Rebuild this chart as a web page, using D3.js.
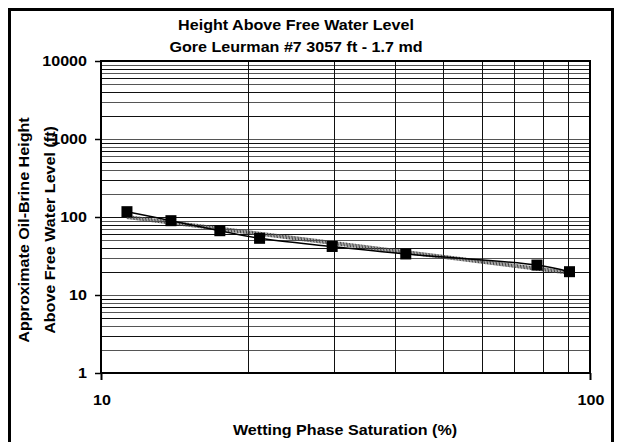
<!DOCTYPE html>
<html>
<head>
<meta charset="utf-8">
<script src="https://cdn.jsdelivr.net/npm/d3@7"></script>
<style>
  body { margin: 0; background: #fff; }
  text { font-family: "Liberation Sans", Arial, sans-serif; font-weight: bold; fill: #000; }
</style>
</head>
<body>
<div id="chart"></div>
<script>
// data
var saturation = [11.3, 13.9, 17.5, 21.1, 29.7, 42.0, 77.9, 90.8]
var heightFt = [117, 89.7, 66.7, 53.3, 41.9, 33.6, 24.2, 19.9]
var xTicks = [10, 100]
var yTicks = [1, 10, 100, 1000, 10000]
var titleLines = ['Height Above Free Water Level', 'Gore Leurman #7 3057 ft - 1.7 md']
var yTitleLines = ['Approximate Oil-Brine Height', 'Above Free Water Level (ft)']
var xTitle = 'Wetting Phase Saturation (%)'

var width = 622, height = 442
var plotLeft = 101, plotRight = 590, plotTop = 61, plotBottom = 373

var svg = d3.select('#chart').append('svg')
    .attr('width', width)
    .attr('height', height)

// outer frame
svg.append('rect')
    .attr('x', 9.5).attr('y', 9.5)
    .attr('width', 603).attr('height', 445)
    .style('fill', 'none')
    .style('stroke', '#000')
    .style('stroke-width', 3)

var x = d3.scaleLog().domain([10, 100]).range([plotLeft, plotRight])
var y = d3.scaleLog().domain([1, 10000]).range([plotBottom, plotTop])

// text helper, stretched a bit wider like the original
function label(t, px, py, size, anchor, rotate) {
    return svg.append('text')
        .attr('transform', 'translate(' + px + ',' + py + ')' + (rotate ? 'rotate(' + rotate + ')' : '') + 'scale(1.15,1)')
        .style('font-size', size + 'px')
        .style('text-anchor', anchor)
        .text(t)
}

// grid
var grid = svg.append('g').attr('shape-rendering', 'crispEdges')
var yGrid = []
for (var d = 1; d < 10000; d *= 10)
    for (var k = 1; k < 10; k++) yGrid.push(d * k)
yGrid.push(10000)

grid.selectAll('.hg').data(yGrid).enter().append('line')
    .attr('class', 'hg')
    .attr('x1', plotLeft).attr('x2', plotRight)
    .attr('y1', function(d) { return Math.round(y(d)) + 0.5 })
    .attr('y2', function(d) { return Math.round(y(d)) + 0.5 })
    .style('stroke', function(d, i) { return i % 2 ? '#555' : '#111' })
    .style('stroke-width', 1)

var xGrid = d3.range(20, 100, 10)
grid.selectAll('.vg').data(xGrid).enter().append('line')
    .attr('class', 'vg')
    .attr('y1', plotTop).attr('y2', plotBottom)
    .attr('x1', function(d) { return Math.round(x(d)) + 0.5 })
    .attr('x2', function(d) { return Math.round(x(d)) + 0.5 })
    .style('stroke', '#111')
    .style('stroke-width', 1)

// plot frame
svg.append('rect')
    .attr('x', plotLeft).attr('y', plotTop)
    .attr('width', plotRight - plotLeft).attr('height', plotBottom - plotTop)
    .style('fill', 'none')
    .style('stroke', '#000')
    .style('stroke-width', 2)

// axes
var yAxis = svg.append('g')
    .attr('transform', 'translate(' + plotLeft + ',0)')
    .call(d3.axisLeft(y).tickValues(yTicks).tickFormat('').tickSize(6).tickSizeOuter(0))
yAxis.select('.domain').remove()
yAxis.selectAll('line').style('stroke', '#000').style('stroke-width', 1.5)

var xAxis = svg.append('g')
    .attr('transform', 'translate(0,' + plotBottom + ')')
    .call(d3.axisBottom(x).tickValues(xTicks).tickFormat('').tickSize(7).tickSizeOuter(0))
xAxis.select('.domain').remove()
xAxis.selectAll('line').style('stroke', '#000').style('stroke-width', 2)

yTicks.forEach(function(v) { label(String(v), 87, y(v) + 5, 14, 'end') })
xTicks.forEach(function(v) { label(String(v), x(v) + 1, 405, 14, 'middle') })

// titles
label(titleLines[0], 296, 30, 14, 'middle')
label(titleLines[1], 296, 52, 14, 'middle')
label(xTitle, 345, 435, 14, 'middle')
label(yTitleLines[0], 29, 230, 14, 'middle', -90)
label(yTitleLines[1], 55, 230, 14, 'middle', -90)

// power trend line fitted to the points (least squares in log space)
var lx = saturation.map(Math.log), ly = heightFt.map(Math.log)
var mx = d3.mean(lx), my = d3.mean(ly)
var b = d3.sum(lx, function(v, i) { return (v - mx) * (ly[i] - my) }) / d3.sum(lx, function(v) { return (v - mx) * (v - mx) })
var a = Math.exp(my - b * mx)
var trendX = [saturation[0], saturation[saturation.length - 1]]
var trend = d3.range(0, 21).map(function(i) {
    var s = Math.exp(Math.log(trendX[0]) + (Math.log(trendX[1]) - Math.log(trendX[0])) * i / 20)
    return [s, a * Math.pow(s, b)]
})
svg.append('path')
    .datum(trend)
    .attr('d', d3.line().x(function(d) { return x(d[0]) }).y(function(d) { return y(d[1]) }))
    .style('fill', 'none')
    .style('stroke', '#444')
    .style('stroke-width', 4)
    .style('stroke-dasharray', '1,0.5')

// data line
var pts = saturation.map(function(s, i) { return [s, heightFt[i]] })
svg.append('path')
    .datum(pts)
    .attr('d', d3.line().curve(d3.curveCatmullRom).x(function(d) { return x(d[0]) }).y(function(d) { return y(d[1]) }))
    .style('fill', 'none')
    .style('stroke', '#000')
    .style('stroke-width', 1.5)

svg.selectAll('.pt').data(pts).enter().append('rect')
    .attr('class', 'pt')
    .attr('x', function(d) { return x(d[0]) - 5.5 })
    .attr('y', function(d) { return y(d[1]) - 5.5 })
    .attr('width', 11).attr('height', 11)
    .style('fill', '#000')
</script>
</body>
</html>
